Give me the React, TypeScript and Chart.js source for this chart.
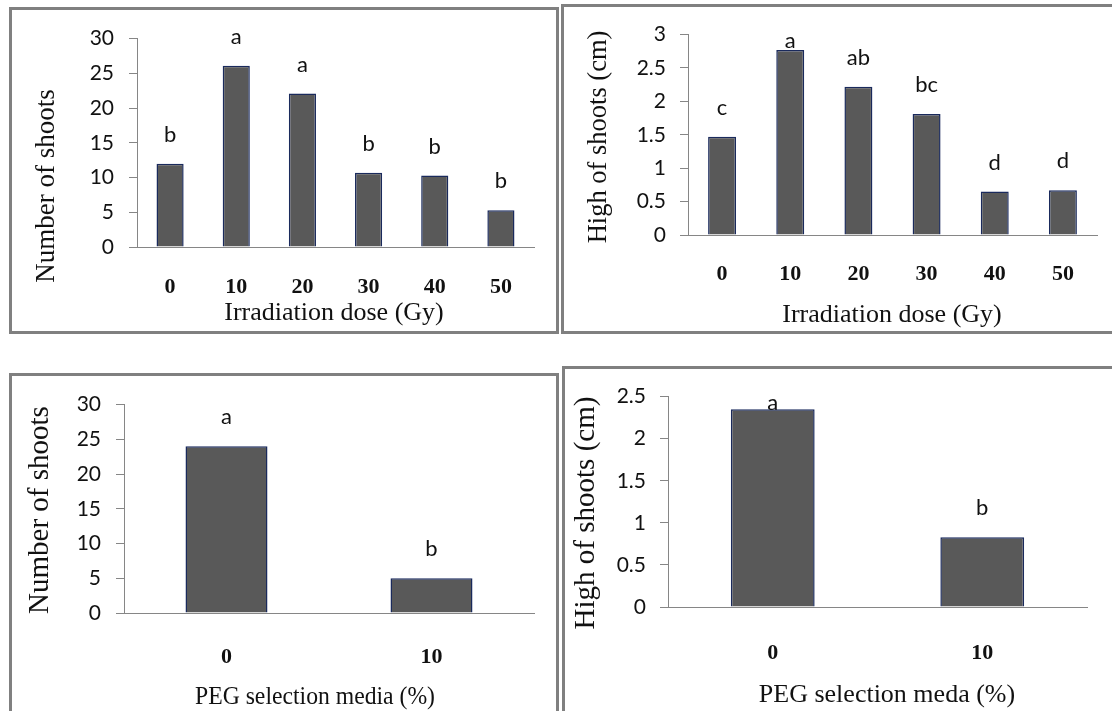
import React, { useEffect, useRef } from "react";
import { Chart, registerables } from "chart.js";

Chart.register(...registerables);

// ---------- data ----------
const doseLabels = ["0", "10", "20", "30", "40", "50"];
const doseShootCount = [12.0, 26.1, 22.1, 10.7, 10.3, 5.3];
const doseShootCountGroups = ["b", "a", "a", "b", "b", "b"];
const doseShootHeight = [1.47, 2.77, 2.22, 1.81, 0.65, 0.67];
const doseShootHeightGroups = ["c", "a", "ab", "bc", "d", "d"];

const pegLabels = ["0", "10"];
const pegShootCount = [24.0, 5.0];
const pegShootCountGroups = ["a", "b"];
const pegShootHeight = [2.35, 0.83];
const pegShootHeightGroups = ["a", "b"];

const countTickValues = [0, 5, 10, 15, 20, 25, 30];
const doseHeightTickValues = [0, 0.5, 1, 1.5, 2, 2.5, 3];
const pegHeightTickValues = [0, 0.5, 1, 1.5, 2, 2.5];

const yTitleCount = "Number of shoots";
const yTitleHeight = "High of shoots (cm)";
const xTitleDose = "Irradiation dose (Gy)";
const xTitlePegMedia = "PEG selection media (%)";
const xTitlePegMeda = "PEG selection meda (%)";

// ---------- style ----------
const SERIF = '"Liberation Serif", "Times New Roman", serif';
const SANS = 'Lato, "Noto Sans", sans-serif';
const BAR_FILL = "#595959";
const BAR_EDGE = "#1a2a5c";
const AXIS = "#868686";
const TEXT = "#111111";
const FRAME = "#808080";

type TitleSpec = { text: string; x: number; y: number; size: number; maxWidth?: number };

type PanelSpec = {
  labels: string[];
  values: number[];
  groups: string[];
  ticks: number[];
  barPct: number;
  left: number;
  top: number;
  width: number;
  height: number;
  areaLeft: number;
  areaTop: number;
  areaRight: number;
  areaBottom: number;
  yTickPad: number;
  xTickPad: number;
  yTitle: TitleSpec;
  xTitle: TitleSpec;
  clamp: number | null;
};

const panelTextPlugin = {
  id: "panelText",
  afterDatasetsDraw(chart: any, _args: any, opts: any) {
    const { ctx, chartArea } = chart;
    const meta = chart.getDatasetMeta(0);
    ctx.save();
    ctx.fillStyle = TEXT;
    ctx.textAlign = "center";
    ctx.textBaseline = "middle";
    ctx.font = `22px ${SANS}`;
    meta.data.forEach((bar: any, i: number) => {
      let y = bar.y - opts.gap;
      if (opts.clamp !== null && opts.clamp !== undefined) {
        y = Math.max(y, chartArea.top + opts.clamp);
      }
      ctx.fillText(opts.groups[i], bar.x, y);
    });
    const ox = opts.originX;
    const oy = opts.originY;
    // y title
    const yt = opts.yTitle;
    ctx.save();
    ctx.font = `${yt.size}px ${SERIF}`;
    ctx.translate(yt.x - ox, yt.y - oy);
    ctx.rotate(-Math.PI / 2);
    if (yt.maxWidth) ctx.fillText(yt.text, 0, 0, yt.maxWidth);
    else ctx.fillText(yt.text, 0, 0);
    ctx.restore();
    // x title
    const xt = opts.xTitle;
    ctx.font = `${xt.size}px ${SERIF}`;
    if (xt.maxWidth) ctx.fillText(xt.text, xt.x - ox, xt.y - oy, xt.maxWidth);
    else ctx.fillText(xt.text, xt.x - ox, xt.y - oy);
    ctx.restore();
  },
};

function BarPanel({ spec }: { spec: PanelSpec }) {
  const ref = useRef<HTMLCanvasElement>(null);
  useEffect(() => {
    const canvas = ref.current;
    if (!canvas) return;
    const s = spec;
    const yAxisW = s.areaLeft - s.left;
    const xAxisH = s.top + s.height - s.areaBottom;
    const tickVals = s.ticks;
    const chart = new Chart(canvas, {
      type: "bar",
      data: {
        labels: s.labels,
        datasets: [
          {
            data: s.values,
            backgroundColor: BAR_FILL,
            borderColor: BAR_EDGE,
            borderWidth: 1.5,
            categoryPercentage: 1,
            barPercentage: s.barPct,
          },
        ],
      },
      options: {
        responsive: false,
        animation: false,
        devicePixelRatio: 1,
        layout: {
          padding: {
            left: 0,
            top: s.areaTop - s.top,
            right: s.left + s.width - s.areaRight,
            bottom: 0,
          },
        },
        plugins: {
          legend: { display: false },
          tooltip: { enabled: false },
          title: { display: false },
          panelText: {
            groups: s.groups,
            gap: 29,
            clamp: s.clamp,
            originX: s.left,
            originY: s.top,
            yTitle: s.yTitle,
            xTitle: s.xTitle,
          },
        } as any,
        scales: {
          x: {
            grid: { display: false, drawTicks: false },
            border: { display: true, color: AXIS, width: 1 },
            ticks: {
              color: TEXT,
              padding: s.xTickPad,
              font: { family: SERIF, size: 22, weight: "bold" },
              maxRotation: 0,
            },
            afterFit: (sc: any) => {
              sc.height = xAxisH;
            },
          },
          y: {
            min: tickVals[0],
            max: tickVals[tickVals.length - 1],
            grid: {
              display: true,
              drawOnChartArea: false,
              drawTicks: true,
              tickLength: 8,
              color: AXIS,
            },
            border: { display: true, color: AXIS, width: 1 },
            ticks: {
              color: TEXT,
              padding: s.yTickPad,
              font: { family: SANS, size: 21 },
              callback: (v: any) => String(v),
            },
            afterBuildTicks: (sc: any) => {
              sc.ticks = tickVals.map((v) => ({ value: v }));
            },
            afterFit: (sc: any) => {
              sc.width = yAxisW;
            },
          },
        },
      },
      plugins: [panelTextPlugin as any],
    });
    return () => chart.destroy();
  }, [spec]);
  return (
    <canvas
      ref={ref}
      width={spec.width}
      height={spec.height}
      style={{ position: "absolute", left: spec.left, top: spec.top, width: spec.width, height: spec.height }}
    />
  );
}

const panels: PanelSpec[] = [
  {
    labels: doseLabels,
    values: doseShootCount,
    groups: doseShootCountGroups,
    ticks: countTickValues,
    barPct: 0.41,
    left: 13,
    top: 11,
    width: 542,
    height: 318,
    areaLeft: 137,
    areaTop: 32,
    areaRight: 534,
    areaBottom: 247,
    yTickPad: 15,
    xTickPad: 27,
    yTitle: { text: yTitleCount, x: 47, y: 186, size: 27 },
    xTitle: { text: xTitleDose, x: 334, y: 313, size: 26 },
    clamp: null,
  },
  {
    labels: doseLabels,
    values: doseShootHeight,
    groups: doseShootHeightGroups,
    ticks: doseHeightTickValues,
    barPct: 0.41,
    left: 565,
    top: 8,
    width: 547,
    height: 321,
    areaLeft: 688,
    areaTop: 21,
    areaRight: 1097,
    areaBottom: 235,
    yTickPad: 14,
    xTickPad: 26,
    yTitle: { text: yTitleHeight, x: 599, y: 137, size: 26.5 },
    xTitle: { text: xTitleDose, x: 892, y: 315, size: 26 },
    clamp: 6,
  },
  {
    labels: pegLabels,
    values: pegShootCount,
    groups: pegShootCountGroups,
    ticks: countTickValues,
    barPct: 0.4,
    left: 13,
    top: 377,
    width: 541,
    height: 334,
    areaLeft: 124,
    areaTop: 398,
    areaRight: 534,
    areaBottom: 613,
    yTickPad: 15,
    xTickPad: 31,
    yTitle: { text: yTitleCount, x: 40, y: 510, size: 29 },
    xTitle: { text: xTitlePegMedia, x: 315, y: 697, size: 26, maxWidth: 240 },
    clamp: null,
  },
  {
    labels: pegLabels,
    values: pegShootHeight,
    groups: pegShootHeightGroups,
    ticks: pegHeightTickValues,
    barPct: 0.4,
    left: 566,
    top: 370,
    width: 546,
    height: 341,
    areaLeft: 668,
    areaTop: 385,
    areaRight: 1087,
    areaBottom: 607,
    yTickPad: 14,
    xTickPad: 33,
    yTitle: { text: yTitleHeight, x: 586, y: 513, size: 29 },
    xTitle: { text: xTitlePegMeda, x: 887, y: 695, size: 26 },
    clamp: 6,
  },
];

const frames = [
  { left: 9, top: 7, width: 550, height: 327 },
  { left: 561, top: 4, width: 600, height: 330 },
  { left: 9, top: 373, width: 550, height: 400 },
  { left: 562, top: 366, width: 600, height: 400 },
];

export default function App() {
  return (
    <div
      style={{
        position: "absolute",
        left: 0,
        top: 0,
        width: 1112,
        height: 711,
        overflow: "hidden",
        background: "#ffffff",
      }}
    >
      {frames.map((f, i) => (
        <div
          key={"f" + i}
          style={{
            position: "absolute",
            left: f.left,
            top: f.top,
            width: f.width,
            height: f.height,
            border: `3px solid ${FRAME}`,
            boxSizing: "border-box",
          }}
        />
      ))}
      {panels.map((p, i) => (
        <BarPanel key={"p" + i} spec={p} />
      ))}
    </div>
  );
}
